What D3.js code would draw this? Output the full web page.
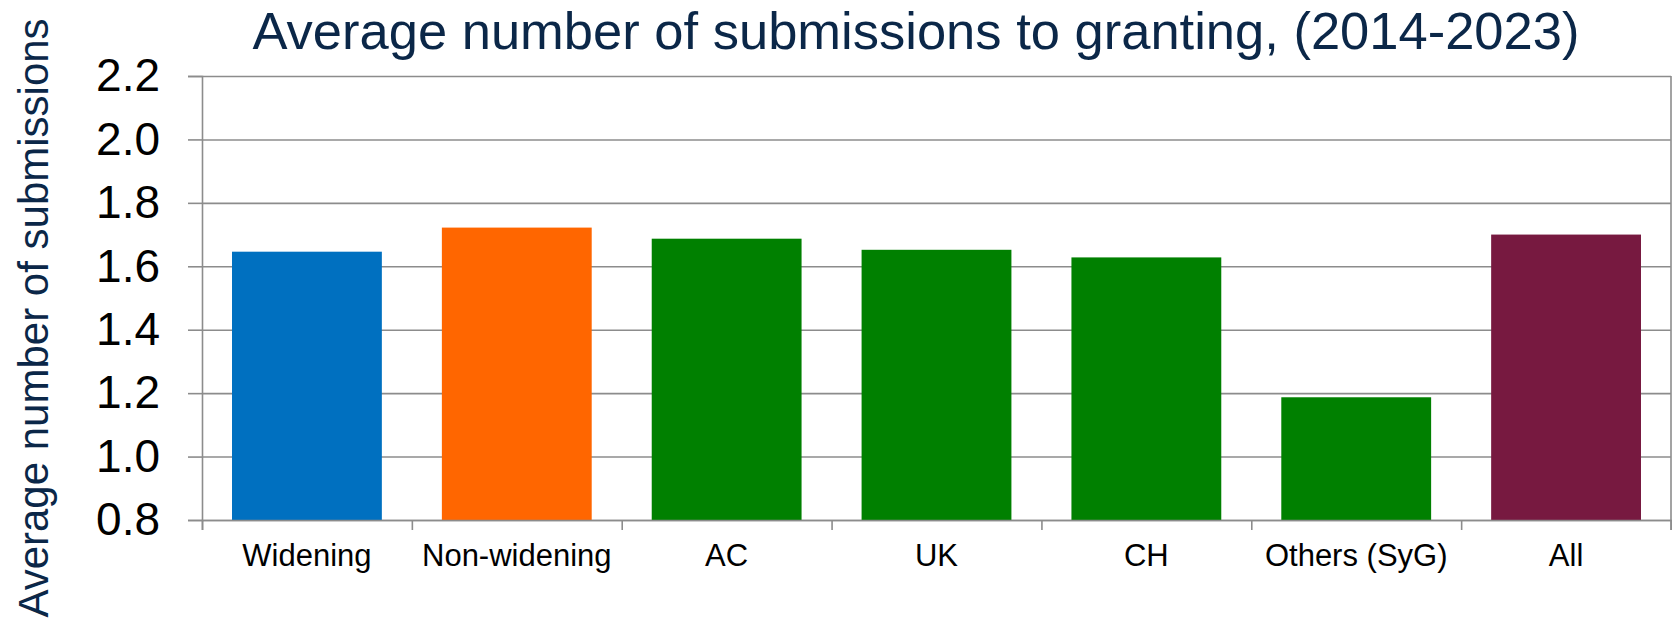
<!DOCTYPE html>
<html>
<head>
<meta charset="utf-8">
<script src="https://cdn.jsdelivr.net/npm/d3@7"></script>
<style>
  body { margin: 0; background: #fff; }
  svg { display: block; font-family: "Liberation Sans", Arial, sans-serif; }
</style>
</head>
<body>
<svg id="chart" width="1672" height="625"></svg>
<script>
const categories = ["Widening", "Non-widening", "AC", "UK", "CH", "Others (SyG)", "All"];
const values = [1.646, 1.722, 1.687, 1.652, 1.628, 1.187, 1.700];
const barColors = ["#0070C0", "#FF6600", "#008000", "#008000", "#008000", "#008000", "#771940"];
const yTicks = [0.8, 1.0, 1.2, 1.4, 1.6, 1.8, 2.0, 2.2];

const margin = {left: 202, right: 1, top: 76, bottom: 105};
const width = 1672, height = 625;
const plotW = width - margin.left - margin.right;
const plotH = height - margin.top - margin.bottom;
const lineColor = "#8c8c8c";

const svg = d3.select("#chart");

svg.append("text")
  .text("Average number of submissions to granting, (2014-2023)")
  .attr("x", 916)
  .attr("y", 48.5)
  .attr("text-anchor", "middle")
  .style("font-size", "52.5px")
  .attr("fill", "#0b2748");

svg.append("text")
  .text("Average number of submissions")
  .attr("transform", "translate(48, 318) rotate(-90)")
  .attr("text-anchor", "middle")
  .style("font-size", "42px")
  .attr("fill", "#0b2748");

const g = svg.append("g")
  .attr("transform", `translate(${margin.left}, ${margin.top})`);

const y = d3.scaleLinear()
  .domain([0.8, 2.2])
  .range([plotH, 0]);

const x = d3.scaleBand()
  .domain(categories)
  .range([0, plotW])
  .paddingInner(0.286)
  .paddingOuter(0.143);

const xEdges = d3.scaleLinear()
  .domain([0, categories.length])
  .range([0, plotW]);

// gridlines
g.append("g")
  .call(d3.axisLeft(y).tickValues(yTicks).tickSize(-plotW).tickFormat(""))
  .call(a => a.select(".domain").remove())
  .call(a => a.selectAll("line").attr("stroke", lineColor).attr("stroke-width", 1.6));

// right border
g.append("line")
  .attr("x1", plotW).attr("x2", plotW)
  .attr("y1", y(2.2)).attr("y2", plotH + 10)
  .attr("stroke", lineColor).attr("stroke-width", 1.6);

// bars
g.selectAll("rect")
  .data(categories)
  .join("rect")
  .attr("x", d => x(d))
  .attr("y", (d, i) => y(values[i]))
  .attr("width", x.bandwidth())
  .attr("height", (d, i) => plotH - y(values[i]))
  .attr("fill", (d, i) => barColors[i]);

// y axis
g.append("g")
  .call(d3.axisLeft(y).tickValues(yTicks).tickSize(14).tickPadding(28).tickFormat(d3.format(".1f")))
  .call(a => a.select(".domain").attr("stroke", lineColor).attr("stroke-width", 1.6))
  .call(a => a.selectAll("line").attr("stroke", lineColor).attr("stroke-width", 1.6))
  .call(a => a.selectAll("text").style("font-size", "46px").attr("fill", "#000")
    .style("font-family", "'Liberation Sans', Arial, sans-serif"));

// x axis edge ticks
g.append("g")
  .attr("transform", `translate(0, ${plotH})`)
  .call(d3.axisBottom(xEdges).ticks(categories.length).tickSize(10).tickFormat(""))
  .call(a => a.select(".domain").attr("stroke", lineColor).attr("stroke-width", 1.6))
  .call(a => a.selectAll("line").attr("stroke", lineColor).attr("stroke-width", 1.6));

// x axis labels
g.append("g")
  .attr("transform", `translate(0, ${plotH})`)
  .call(d3.axisBottom(x).tickSize(0).tickPadding(24))
  .call(a => a.select(".domain").remove())
  .call(a => a.selectAll("text").style("font-size", "31px").attr("fill", "#000")
    .style("font-family", "'Liberation Sans', Arial, sans-serif"));
</script>
</body>
</html>
